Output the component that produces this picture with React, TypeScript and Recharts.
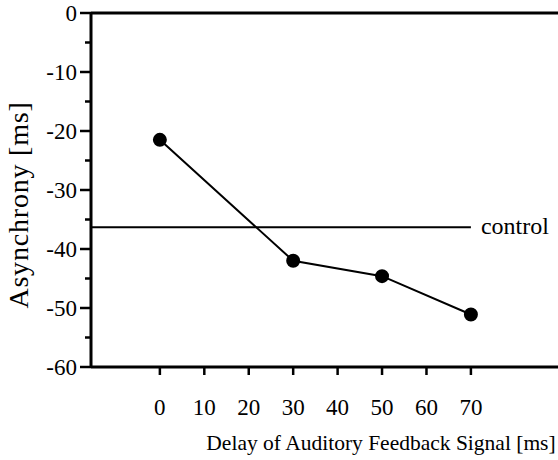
import { LineChart, Line, XAxis, YAxis, ReferenceLine } from "recharts";

const delays = [0, 30, 50, 70];
const asynchrony = [-21.5, -42, -44.6, -51.1];
const controlValue = -36.3;
const controlEnd = 70;
const xTicks = [0, 10, 20, 30, 40, 50, 60, 70];
const yTicks = [-60, -55, -50, -45, -40, -35, -30, -25, -20, -15, -10, -5, 0];

const data = delays.map((d, i) => ({ delay: d, value: asynchrony[i] }));

const FONT = "'Liberation Serif', 'Times New Roman', serif";
const X_MIN = -15.5;
const X_MAX = 89.6;
const txt = { fontFamily: FONT, fontSize: 23, fill: "#000" };

function YTick(props: any) {
  const { x, y, payload } = props;
  const major = payload.value % 10 === 0;
  return (
    <g>
      <line x1={x - (major ? 11 : 6)} x2={x} y1={y} y2={y} stroke="#000" strokeWidth={2.5} />
      {major && (
        <text x={x - 14} y={y + 8} textAnchor="end" style={txt}>
          {payload.value}
        </text>
      )}
    </g>
  );
}

function XTick(props: any) {
  const { x, y, payload } = props;
  return (
    <g>
      <line x1={x} x2={x} y1={y} y2={y + 8} stroke="#000" strokeWidth={2.5} />
      <text x={x} y={y + 48} textAnchor="middle" style={txt}>
        {payload.value}
      </text>
    </g>
  );
}

function XLabel(props: any) {
  const { viewBox } = props;
  return (
    <text x={viewBox.x + 290} y={viewBox.y + 83} textAnchor="middle" style={{ ...txt, fontSize: 21.5 }}>
      Delay of Auditory Feedback Signal [ms]
    </text>
  );
}

function YLabel(props: any) {
  const { viewBox } = props;
  const cx = 28;
  const cy = viewBox.y + 192;
  return (
    <text
      x={cx}
      y={cy}
      textAnchor="middle"
      transform={`rotate(-90 ${cx} ${cy})`}
      style={{ ...txt, fontSize: 28, letterSpacing: 0.8 }}
    >
      Asynchrony [ms]
    </text>
  );
}

function ControlLabel(props: any) {
  const { viewBox } = props;
  return (
    <text x={viewBox.x + viewBox.width + 10} y={viewBox.y + 7} style={{ ...txt, fontSize: 24 }}>
      control
    </text>
  );
}

export default function App() {
  return (
    <div style={{ position: "absolute", left: 0, top: 0, background: "#fff" }}>
      <LineChart width={558} height={460} data={data} margin={{ top: 13, right: 0, left: 0, bottom: 0 }}>
        <XAxis
          dataKey="delay"
          type="number"
          domain={[X_MIN, X_MAX]}
          ticks={xTicks}
          allowDataOverflow
          height={93}
          tickSize={0}
          tickMargin={0}
          tickLine={false}
          axisLine={{ stroke: "#000", strokeWidth: 3 }}
          tick={<XTick />}
          label={<XLabel />}
        />
        <YAxis
          type="number"
          domain={[-60, 0]}
          ticks={yTicks}
          interval={0}
          width={91}
          tickSize={0}
          tickMargin={0}
          tickLine={false}
          axisLine={{ stroke: "#000", strokeWidth: 3 }}
          tick={<YTick />}
          label={<YLabel />}
        />
        <ReferenceLine y={0} stroke="#000" strokeWidth={3} />
        <ReferenceLine
          segment={[
            { x: X_MIN, y: controlValue },
            { x: controlEnd, y: controlValue },
          ]}
          stroke="#000"
          strokeWidth={2}
          label={<ControlLabel />}
        />
        <Line
          dataKey="value"
          stroke="#000"
          strokeWidth={2}
          dot={{ r: 6, fill: "#000", stroke: "#000" }}
          isAnimationActive={false}
        />
      </LineChart>
    </div>
  );
}
